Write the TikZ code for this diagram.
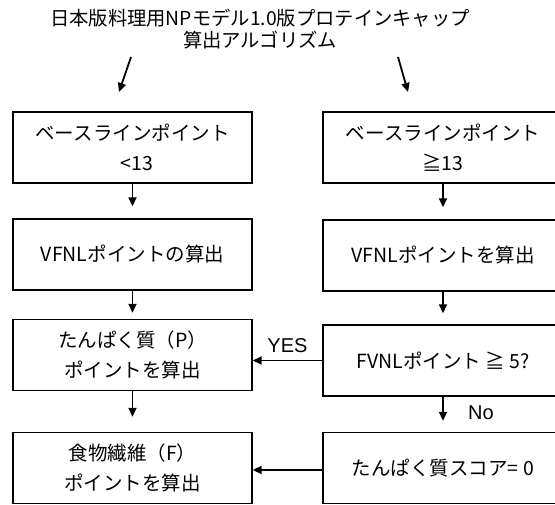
\documentclass[tikz,border=0pt]{standalone}
\usepackage{fontspec}
\setmainfont{Noto Sans CJK JP}
\newfontfamily\latinfont{Liberation Sans}
\usetikzlibrary{arrows.meta}
\begin{document}
\begin{tikzpicture}[x=1pt,y=-1pt,
  box/.style={draw=black, line width=1.4pt, minimum width=239pt, minimum height=71pt,
    align=center, inner sep=0pt, font=\fontsize{19.5}{30}\selectfont},
  arr/.style={line width=1.8pt, -{Triangle[length=9pt,width=8pt]}},
  lab/.style={font=\latinfont\fontsize{20}{24}\selectfont, inner sep=0pt}]
\clip (0,0) rectangle (555,505);
\node[font=\fontsize{19.3}{21.5}\selectfont, align=center, inner sep=0pt] (T) at (260,29)
  {日本版料理用NPモデル1.0版プロテインキャップ\\算出アルゴリズム};
\coordinate (ta1) at (131,57);
\coordinate (ta2) at (119,92);
\coordinate (tb1) at (398,57);
\coordinate (tb2) at (408,92);
\draw[arr] (ta1) -- (ta2);
\draw[arr] (tb1) -- (tb2);
% left column
\node[box] (L1) at (132.5,147.5) {ベースラインポイント\\\ \ <13};
\node[box] (L2) at (132.5,254.5) {VFNLポイントの算出};
\node[box] (L3) at (132.5,355) {たんぱく質（P）\\ポイントを算出};
\node[box] (L4) at (132.5,468) {食物繊維（F）\\ポイントを算出};
% right column
\node[box, minimum width=240pt] (R1) at (443,147.5) {ベースラインポイント\\≧13};
\node[box, minimum width=240pt] (R2) at (443,255.5) {VFNLポイントを算出};
\node[box, minimum width=240pt] (R3) at (443,360.5) {FVNLポイント ≧ 5?};
\node[box, minimum width=240pt] (R4) at (443,468) {たんぱく質スコア= 0};
% vertical arrows
\draw[arr, shorten >=12pt] (L1.south) -- (L2.north);
\draw[arr, shorten >=6pt] (L2.south) -- (L3.north);
\draw[arr, shorten >=15pt] (L3.south) -- (L4.north);
\draw[arr, shorten >=12pt] (R1.south) -- (R2.north);
\draw[arr, shorten >=11pt] (R2.south) -- (R3.north);
\draw[arr, shorten >=11pt] (R3.south) -- (R4.north);
% horizontal arrows
\draw[arr] (R3.west) -- (R3.west -| L3.east) node[lab, midway, above=7pt] (yes) {YES};
\draw[arr] ([yshift=-2pt]R4.west) -- ([yshift=-2pt]R4.west -| L4.east);
\node[lab] (no) at (481,413) {No};
\end{tikzpicture}
\end{document}
